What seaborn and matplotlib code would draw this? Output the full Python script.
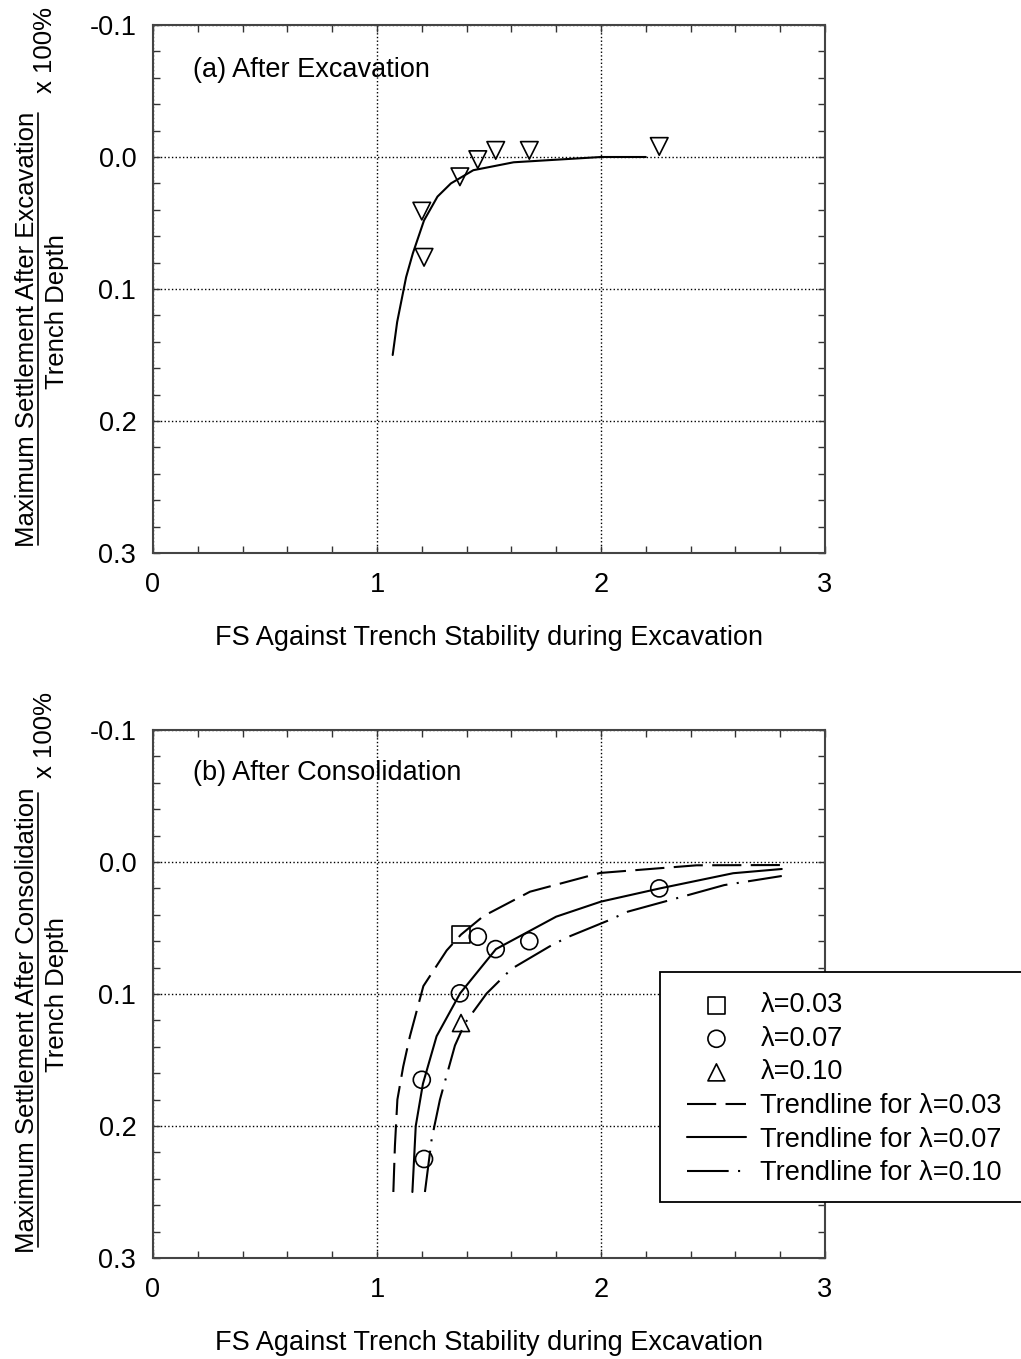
import matplotlib
matplotlib.use("Agg")
import matplotlib.pyplot as plt
import seaborn as sns
from matplotlib.lines import Line2D
from matplotlib.patches import Rectangle
from matplotlib.ticker import MultipleLocator, FormatStrFormatter

# (a) after excavation - measured points and trendline
fs_exc = [1.20, 1.21, 1.37, 1.45, 1.53, 1.68, 2.26]
set_exc = [0.041, 0.076, 0.015, 0.002, -0.005, -0.005, -0.008]
trend_exc_fs = [1.07, 1.09, 1.13, 1.16, 1.21, 1.27, 1.33, 1.43, 1.61, 2.00, 2.20]
trend_exc_set = [0.150, 0.125, 0.091, 0.073, 0.048, 0.030, 0.020, 0.010, 0.004, 0.000, 0.000]

# (b) after consolidation - measured points per lambda
fs_l03 = [1.375]
set_l03 = [0.055]
fs_l07 = [1.20, 1.21, 1.37, 1.45, 1.53, 1.68, 2.26]
set_l07 = [0.165, 0.225, 0.0995, 0.0566, 0.066, 0.060, 0.020]
fs_l10 = [1.375]
set_l10 = [0.122]

# trendlines
tr03_fs = [1.073, 1.080, 1.091, 1.117, 1.147, 1.207, 1.311, 1.375, 1.475, 1.683, 1.996, 2.427, 2.807]
tr03_set = [0.250, 0.215, 0.180, 0.155, 0.132, 0.094, 0.067, 0.055, 0.041, 0.0225, 0.0083, 0.0025, 0.0023]
tr07_fs = [1.158, 1.173, 1.205, 1.266, 1.371, 1.531, 1.80, 2.00, 2.263, 2.59, 2.807]
tr07_set = [0.250, 0.200, 0.168, 0.132, 0.0995, 0.066, 0.0414, 0.030, 0.020, 0.0085, 0.0053]
tr10_fs = [1.214, 1.244, 1.281, 1.348, 1.393, 1.49, 1.60, 1.77, 1.85, 2.03, 2.12, 2.32, 2.55, 2.807]
tr10_set = [0.250, 0.210, 0.180, 0.139, 0.122, 0.0995, 0.081, 0.064, 0.057, 0.0445, 0.0376, 0.0283, 0.0175, 0.0106]

xlabel = "FS Against Trench Stability during Excavation"

sns.set_style("ticks")
plt.rcParams["font.family"] = ["Liberation Sans", "DejaVu Sans"]
plt.rcParams["font.size"] = 19.5
plt.rcParams["text.color"] = "k"
plt.rcParams["axes.labelcolor"] = "k"
plt.rcParams["xtick.labelcolor"] = "k"
plt.rcParams["ytick.labelcolor"] = "k"

W, H = 1021, 1359
fig = plt.figure(figsize=(W / 100, H / 100), dpi=100)

def fx(px):
    return px / W

def fy(py):
    return 1 - py / H

ax1 = fig.add_axes([fx(153), fy(553), fx(825) - fx(153), fy(25) - fy(553)])
ax2 = fig.add_axes([fx(153), fy(1258), fx(825) - fx(153), fy(730) - fy(1258)])

DASHED = (0, (14, 4.5))
DASHDOT = (0, (20, 4.5, 1, 4.5))

for ax in (ax1, ax2):
    ax.set_xlim(0, 3)
    ax.set_ylim(0.3, -0.1)
    ax.xaxis.set_major_locator(MultipleLocator(1))
    ax.xaxis.set_minor_locator(MultipleLocator(0.2))
    ax.yaxis.set_major_locator(MultipleLocator(0.1))
    ax.yaxis.set_minor_locator(MultipleLocator(0.02))
    ax.xaxis.set_major_formatter(FormatStrFormatter("%d"))
    ax.yaxis.set_major_formatter(FormatStrFormatter("%.1f"))
    ax.tick_params(which="both", direction="in", top=True, right=True,
                   length=5, width=1, color="#333333", labelsize=19.5, labelcolor="k")
    ax.tick_params(axis="y", pad=12)
    ax.tick_params(axis="x", pad=14)
    ax.grid(True, which="major", ls=":", color="k", lw=1)
    for sp in ax.spines.values():
        sp.set_color("#444444")
        sp.set_linewidth(1.5)
    ax.set_xlabel(xlabel, fontsize=19.5, labelpad=19)

# top panel
sns.lineplot(x=trend_exc_fs, y=trend_exc_set, ax=ax1, color="k", lw=1.5,
             sort=False, estimator=None, legend=False)
sns.scatterplot(x=fs_exc, y=set_exc, ax=ax1, marker="v", s=160,
                facecolor="none", edgecolor="k", linewidth=1.2, zorder=3, legend=False)
ax1.text(0.06, 0.915, "(a) After Excavation", transform=ax1.transAxes,
         va="center", ha="left", fontsize=19.5)

# bottom panel
sns.scatterplot(x=fs_l03, y=set_l03, ax=ax2, marker="s", s=150,
                facecolor="none", edgecolor="k", linewidth=1.2, zorder=3,
                label="\u03bb=0.03", legend=False)
sns.scatterplot(x=fs_l07, y=set_l07, ax=ax2, marker="o", s=150,
                facecolor="none", edgecolor="k", linewidth=1.2, zorder=3,
                label="\u03bb=0.07", legend=False)
sns.scatterplot(x=fs_l10, y=set_l10, ax=ax2, marker="^", s=150,
                facecolor="none", edgecolor="k", linewidth=1.2, zorder=3,
                label="\u03bb=0.10", legend=False)
sns.lineplot(x=tr03_fs, y=tr03_set, ax=ax2, color="k", lw=1.5, linestyle=DASHED,
             sort=False, estimator=None, label="Trendline for \u03bb=0.03", legend=False)
sns.lineplot(x=tr07_fs, y=tr07_set, ax=ax2, color="k", lw=1.5,
             sort=False, estimator=None, label="Trendline for \u03bb=0.07", legend=False)
sns.lineplot(x=tr10_fs, y=tr10_set, ax=ax2, color="k", lw=1.5, linestyle=DASHDOT,
             sort=False, estimator=None, label="Trendline for \u03bb=0.10", legend=False)
ax2.text(0.06, 0.919, "(b) After Consolidation", transform=ax2.transAxes,
         va="center", ha="left", fontsize=19.5)

# legend box runs past the right edge of the figure
fig.add_artist(Rectangle((fx(660), fy(1202)), fx(1040) - fx(660), fy(972) - fy(1202),
                         transform=fig.transFigure, facecolor="white", edgecolor="k",
                         lw=1.3, zorder=4))
handles, labels = ax2.get_legend_handles_labels()
leg = fig.legend(handles, labels, loc="upper left",
                 bbox_to_anchor=(fx(667), fy(972)), bbox_transform=fig.transFigure,
                 frameon=False, borderaxespad=0, borderpad=0.75,
                 handlelength=2.15, handletextpad=0.55,
                 labelspacing=0.28, fontsize=19.5, scatterpoints=1)
leg.set_zorder(5)

# y-axis labels drawn as a fraction
for (num, y_num, y_den, y_pct, y0, y1) in [
    ("Maximum Settlement After Excavation", 329, 312, 50, 113, 545),
    ("Maximum Settlement After Consolidation", 1020, 995, 735, 793, 1247),
]:
    fig.text(fx(27), fy(y_num), num, rotation=90, ha="center", va="center", fontsize=18.5)
    fig.text(fx(57), fy(y_den), "Trench Depth", rotation=90, ha="center", va="center", fontsize=18.5)
    fig.text(fx(45), fy(y_pct), "x 100%", rotation=90, ha="center", va="center", fontsize=18.5)
    fig.add_artist(Line2D([fx(37.5), fx(37.5)], [fy(y0), fy(y1)], color="k", lw=1.2,
                          transform=fig.transFigure))

fig.savefig("out.png", dpi=100)
